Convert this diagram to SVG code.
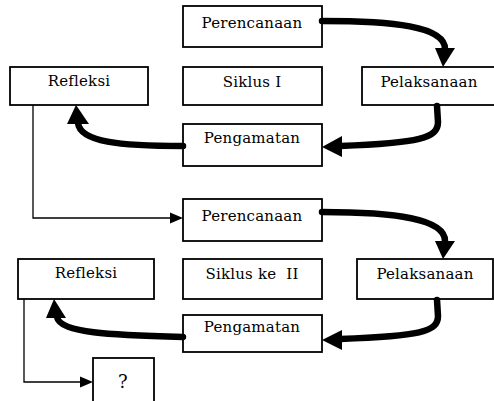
<svg xmlns="http://www.w3.org/2000/svg" width="494" height="401" viewBox="0 0 494 401">
<style>
.box{fill:#fff;stroke:#000;stroke-width:1.8}
.lbl{font-family:"DejaVu Serif","Liberation Serif",serif;font-size:15px;fill:#000;text-anchor:middle;letter-spacing:0.2px}
.thick{fill:none;stroke:#000;stroke-width:6.5;stroke-linecap:round}
.thin{fill:none;stroke:#000;stroke-width:1.3}
.head{fill:#000}
</style>
<rect width="494" height="401" fill="#fff"/>
<g id="perencanaan1"><rect class="box" x="183" y="6" width="139" height="41"/><text class="lbl" x="252" y="28">Perencanaan</text></g>
<g id="refleksi1"><rect class="box" x="10" y="67" width="138" height="38"/><text class="lbl" x="79" y="86">Refleksi</text></g>
<g id="siklus1"><rect class="box" x="183" y="67" width="139" height="38"/><text class="lbl" x="252" y="87">Siklus I</text></g>
<g id="pelaksanaan1"><rect class="box" x="362" y="67" width="136" height="38"/><text class="lbl" x="429" y="87">Pelaksanaan</text></g>
<g id="pengamatan1"><rect class="box" x="183" y="124" width="139" height="42"/><text class="lbl" x="252" y="143">Pengamatan</text></g>
<g id="perencanaan2"><rect class="box" x="183" y="199" width="139" height="42"/><text class="lbl" x="252" y="221">Perencanaan</text></g>
<g id="refleksi2"><rect class="box" x="18" y="259" width="136" height="40"/><text class="lbl" x="86" y="278">Refleksi</text></g>
<g id="siklus2"><rect class="box" x="183" y="259" width="139" height="40"/><text class="lbl" x="252" y="279" xml:space="preserve">Siklus ke  II</text></g>
<g id="pelaksanaan2"><rect class="box" x="357" y="259" width="136" height="40"/><text class="lbl" x="425" y="279">Pelaksanaan</text></g>
<g id="pengamatan2"><rect class="box" x="183" y="315" width="139" height="37"/><text class="lbl" x="252" y="332">Pengamatan</text></g>
<g id="q"><rect class="box" x="93" y="358" width="61" height="44"/><text class="lbl" x="123" y="388" style="font-size:18px">?</text></g>
<g id="connectors">
<path class="thick" d="M322,21 C392,21 445,26 445,49"/>
<polygon class="head" points="435,48 455,48 443,67"/>
<path class="thick" d="M437,106 L438,122 C438,138 420,143 340,146"/>
<polygon class="head" points="342,136 342,157 322,147"/>
<path class="thick" d="M183,146 C120,146 80,142 78,123"/>
<polygon class="head" points="67,124 89,124 76,105"/>
<path class="thick" d="M322,212 C395,212 445,219 445,241"/>
<polygon class="head" points="435,241 455,241 443,259"/>
<path class="thick" d="M437,300 L438,316 C438,332 420,336 340,339"/>
<polygon class="head" points="342,330 342,350 322,340"/>
<path class="thick" d="M183,337 C110,335 60,333 57,317"/>
<polygon class="head" points="46,318 66,318 54,299"/>
<path class="thin" d="M33,105 L33,218 L171,218"/>
<polygon class="head" points="170,212.5 170,223.5 183,218"/>
<path class="thin" d="M24,299 L24,382 L81,382"/>
<polygon class="head" points="80,376.5 80,387.5 93,382"/>
</g>
</svg>
